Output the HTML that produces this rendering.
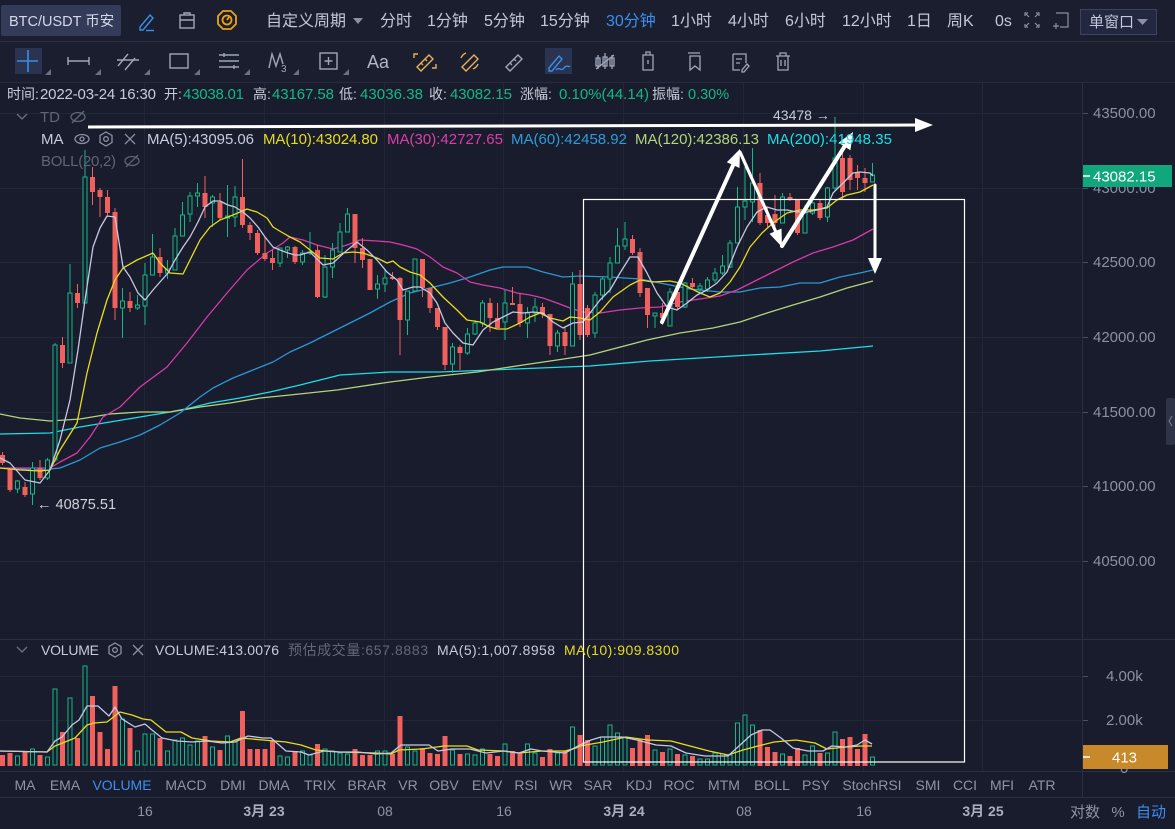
<!DOCTYPE html>
<html><head><meta charset="utf-8"><style>
html,body{margin:0;padding:0;background:#181c2c;overflow:hidden}
svg{display:block}
text{font-family:"Liberation Sans","Noto Sans CJK SC",sans-serif}
</style></head><body>
<svg width="1175" height="829" viewBox="0 0 1175 829" xmlns="http://www.w3.org/2000/svg">
<rect x="0" y="0" width="1175" height="829" fill="#181c2c"/>
<rect x="0" y="0" width="1175" height="82" fill="#1a1e2e"/>
<line x1="0" y1="41.5" x2="1175" y2="41.5" stroke="#2a2f41"/>
<line x1="0" y1="82.5" x2="1175" y2="82.5" stroke="#262b3d"/>

<!-- Toolbar 1 -->
<rect x="1" y="5" width="120" height="31" rx="2" fill="#343b58"/>
<text x="9" y="26" font-size="14.5" fill="#d4d8ea">BTC/USDT 币安</text>
<g fill="none" stroke="#3a8ee6" stroke-width="1.4"><path d="M140 27 L150 15 L153 18 L143 30 L140 30 Z"/><path d="M146 30.5h8"/></g>
<g fill="none" stroke="#a0a6ba" stroke-width="1.4"><rect x="180" y="15" width="14" height="13"/><path d="M180 20h14M184 15v-2h6v2"/></g>
<g fill="none" stroke="#e8a317" stroke-width="1.8"><polygon points="223,11 231,11 236,16 236,24 231,29 223,29 218,24 218,16"/><circle cx="227" cy="20" r="4.5"/><path d="M227 20 L229 17"/></g>
<g font-size="16" fill="#c3c7d9">
<text x="266" y="26">自定义周期</text>
<text x="380" y="26">分时</text>
<text x="427" y="26">1分钟</text>
<text x="484" y="26">5分钟</text>
<text x="540" y="26">15分钟</text>
<text x="606" y="26" fill="#3d8ff0">30分钟</text>
<text x="671" y="26">1小时</text>
<text x="728" y="26">4小时</text>
<text x="785" y="26">6小时</text>
<text x="842" y="26">12小时</text>
<text x="907" y="26">1日</text>
<text x="947" y="26">周K</text>
<text x="995" y="26">0s</text>
</g>
<polygon points="353,18 363,18 358,24" fill="#8b90a5"/>
<g fill="none" stroke="#8b90a5" stroke-width="1.2"><path d="M1025 16v-3h3M1039 16v-3h-3M1025 24v3h3M1039 24v3h-3M1026 14l3 3M1038 14l-3 3M1026 26l3-3M1038 26l-3-3"/><path d="M1056 13h12v14h-8M1056 23v6M1053 26h6"/></g>
<rect x="1080.5" y="9.5" width="76" height="25" fill="#232840" stroke="#3b4263"/>
<text x="1089" y="27" font-size="15" fill="#c3c7d9">单窗口</text>
<polygon points="1137,19 1148,19 1142.5,25" fill="#8b90a5"/>

<!-- Toolbar 2 -->
<rect x="15" y="48" width="27" height="26" fill="#2a3350"/>
<g stroke="#3a8ee6" stroke-width="1.6"><path d="M17 61h21M28 50v22"/></g>
<g fill="#6a7088"><polygon points="45,75 51,69 51,75"/><polygon points="95,75 101,69 101,75"/><polygon points="144,75 150,69 150,75"/><polygon points="194,75 200,69 200,75"/><polygon points="244,75 250,69 250,75"/><polygon points="293,75 299,69 299,75"/><polygon points="343,75 349,69 349,75"/></g>
<g fill="none" stroke="#a0a6ba" stroke-width="1.4">
<path d="M68 61h21M68 57v8M89 57v8"/>
<path d="M118 66l10-12M125 70l10-12M117 60h22"/>
<rect x="170" y="54" width="18" height="14"/>
<path d="M219 55h20M219 61h20M219 67h20M224 53v4M234 65v4"/>
<path d="M269 68l3-14l4 12l4-12l3 10"/>
<rect x="320" y="53" width="17" height="16"/><path d="M328.5 57v8M324.5 61h8"/>
<g stroke="#e8b05a"><path d="M417 67l12-12l4 4l-12 12zM421 63l2 2M425 59l2 2M414 58v-4h4M436 64v4h-4"/></g>
<g stroke="#e8b05a"><path d="M462 67l12-12l4 4l-12 12z"/><path d="M461 58a9 9 0 0 1 5-5M478 64a9 9 0 0 1-5 5"/></g>
<path d="M506 67l12-12l4 4l-12 12zM510 63l2 2M514 59l2 2"/>
</g>
<text x="367" y="68" font-size="18" fill="#b0b6c8">Aa</text>
<text x="281" y="72" font-size="10" fill="#a0a6ba">3</text>
<rect x="545" y="48" width="27" height="26" fill="#2a3350"/>
<g fill="none" stroke="#3a8ee6" stroke-width="1.4"><path d="M549 68l10-12l3 3l-10 12h-3z"/><path d="M556 70c3-4 5 2 8-2s4 0 6-2"/></g>
<g fill="none" stroke="#a0a6ba" stroke-width="1.3">
<path d="M598 55v14M598 58h-2v8h4v-8zM605 53v16M603 57h4v9h-4zM612 55v14M610 58h4v8h-4z"/><path d="M596 69l18-14"/>
<path d="M643 55h10v15h-10zM646 55v-3h4v3M648 60v4"/>
<path d="M688 53h12M690 56h10v14l-5-4l-5 4z"/>
<path d="M733 54h13v9M733 54v16h7M736 59h6M736 63h4M742 70l5-6l2 2l-5 6h-2z"/>
<path d="M776 56h14M780 56v-3h6v3M778 56v14h10v-14M781 60v6M785 60v6"/>
</g>

<!-- grid -->
<g stroke="#222738" stroke-width="1">
<path d="M0 113.5H1082M0 188.5H1082M0 262.5H1082M0 337.5H1082M0 412.5H1082M0 486.5H1082M0 561.5H1082M0 676.5H1082M0 720.5H1082"/>
<path d="M144.5 83V771M264.5 83V771M384.5 83V771M503.5 83V771M623.5 83V771M743.5 83V771M863.5 83V771M982.5 83V771"/>
</g>
<line x1="0" y1="639.5" x2="1175" y2="639.5" stroke="#2a3043"/>
<line x1="0" y1="771.5" x2="1175" y2="771.5" stroke="#2a3043"/>
<line x1="0" y1="797.5" x2="1175" y2="797.5" stroke="#2a3043"/>
<line x1="1082.5" y1="83" x2="1082.5" y2="797" stroke="#2a3043"/>

<!-- MA lines price -->
<g fill="none" stroke-width="1.3" stroke-linejoin="round">
<polyline stroke="#1cdfe6" points="0,434 50,433 80,427 110,422 140,417 170,412 190,408 210,403 240,398 270,392 300,385 340,375 390,372 440,372 490,370 540,368 590,366 650,361 700,358 750,355 820,351 873,346"/>
<polyline stroke="#b4d47c" points="0,414 20,418 50,421 80,419 110,414 140,412 170,412 200,407 230,403 260,398 290,395 337,390 390,382 430,377 477,372 523,365 557,360 590,355 647,340 680,333 713,328 740,322 767,313 793,305 820,297 847,288 873,281"/>
<polyline stroke="#2c98d4" points="0,468 40,470 60,468 80,460 100,448 120,442 140,435 160,425 180,413 200,397 213,388 233,378 253,370 273,362 290,352 310,343 330,333 350,323 370,313 390,302 410,293 430,288 450,283 470,277 490,270 503,267 527,267 543,272 563,277 580,276 610,277 640,279 670,285 690,289 720,292 740,292 760,288 780,287 800,283 820,283 840,277 860,273 873,270"/>
<polyline stroke="#d83aa8" points="0,468 50,468 60,462 77,453 90,437 103,417 120,407 140,387 167,367 187,343 207,317 227,293 247,270 267,253 283,243 290,237 303,240 317,245 333,249 347,245 360,240 377,241 390,242 403,245 417,249 430,257 443,267 457,273 470,282 483,285 500,288 517,293 530,295 543,298 557,303 570,308 583,312 600,313 620,310 640,308 660,307 680,302 700,299 720,296 737,290 753,282 773,272 793,262 813,253 833,247 853,240 873,229"/>
</g>

<!-- candles -->
<path stroke="#f0605d" stroke-width="1" fill="none" d="M2.5 452V465M10 468V492M25 482V497M40 460V480M62.5 337V368M77.5 284V308M92.5 167V205M100 188V217M107.5 190V217M115 208V320M130 292V312M160 248V277M205 176V218M220 193V220M242.5 159V228M250 222V240M257.5 230V255M265 237V261M272.5 250V270M295 246V264M317.5 245V298M355 214V263M362.5 238V268M370 259V290M392.5 272V280M400 277V355M422.5 259V297M430 288V313M437.5 308V330M445 327V370M460 345V370M490 298V332M497.5 303V328M512.5 287V305M520 293V327M542.5 303V318M550 314V355M565 327V355M580 270V340M587.5 305V337M632.5 235V255M640 248V297M647.5 288V328M662.5 303V325M677.5 290V310M692.5 278V288M760 173V225M767.5 207V227M775 195V227M790 193V201M797.5 200V235M820 200V220M842.5 150V200M850 155V190M857.5 165V190M865 168V192"/>
<path fill="#f0605d" d="M0 455h5v8h-5zM7.5 469h5v21h-5zM22.5 487h5v8h-5zM37.5 468h5v10h-5zM60 345h5v18h-5zM75 293h5v10h-5zM90 177h5v15h-5zM97.5 190h5v7h-5zM105 197h5v16h-5zM112.5 212h5v96h-5zM127.5 301h5v7h-5zM157.5 257h5v16h-5zM202.5 193h5v14h-5zM217.5 202h5v16h-5zM240 197h5v28h-5zM247.5 225h5v8h-5zM255 233h5v20h-5zM262.5 253h5v6h-5zM270 258h5v5h-5zM292.5 247h5v15h-5zM315 250h5v47h-5zM352.5 214h5v34h-5zM360 248h5v12h-5zM367.5 259h5v31h-5zM390 277h5v2h-5zM397.5 278h5v42h-5zM420 259h5v29h-5zM427.5 288h5v20h-5zM435 308h5v19h-5zM442.5 327h5v38h-5zM457.5 347h5v6h-5zM487.5 303h5v15h-5zM495 318h5v10h-5zM510 303h5v2h-5zM517.5 304h5v19h-5zM540 307h5v7h-5zM547.5 314h5v32h-5zM562.5 332h5v14h-5zM577.5 284h5v51h-5zM585 308h5v27h-5zM630 239h5v14h-5zM637.5 252h5v41h-5zM645 288h5v27h-5zM660 313h5v5h-5zM675 292h5v15h-5zM690 283h5v4h-5zM757.5 183h5v40h-5zM765 215h5v8h-5zM772.5 214h5v9h-5zM787.5 197h5v3h-5zM795 200h5v33h-5zM817.5 203h5v15h-5zM840 158h5v34h-5zM847.5 158h5v22h-5zM855 172h5v6h-5zM862.5 178h5v5h-5z"/>
<path stroke="#13b886" stroke-width="1" fill="none" d="M17.5 480V493M32.5 462V505M47.5 458V480M55 343V462M70 264V363M85 150V303M122.5 288V338M137.5 295V310M145 263V325M152.5 234V275M167.5 260V279M175 228V270M182.5 202V236M190 192V222M197.5 183V207M212.5 195V227M227.5 185V237M235 186V227M280 248V267M287.5 246V258M302.5 250V265M310 232V255M325 255V298M332.5 243V278M340 223V252M347.5 208V232M377.5 275V299M385 270V292M407.5 291V335M415 259V291M452.5 343V373M467.5 328V355M475 320V335M482.5 300V327M505 290V340M527.5 307V338M535 298V322M557.5 330V352M572.5 272V346M595 292V338M602.5 277V300M610 257V293M617.5 228V263M625 222V250M655 313V328M670 288V326M685 282V308M700 283V293M707.5 277V292M715 268V283M722.5 255V275M730 240V268M737.5 187V243M745 163V220M752.5 148V222M782.5 193V223M805 205V233M812.5 201V215M827.5 187V222M835 117V190M872.5 163V182"/>
<path stroke="#13b886" stroke-width="1" fill="#181c2c" d="M15.5 481h4v8h-4zM30.5 468h4v26h-4zM45.5 460h4v18h-4zM53 345h4v115h-4zM68 293h4v70h-4zM83 177h4v126h-4zM120.5 301h4v7h-4zM135.5 305h4v3h-4zM143 275h4v31h-4zM150.5 257h4v18h-4zM165.5 269h4v4h-4zM173 236h4v34h-4zM180.5 215h4v21h-4zM188 196h4v18h-4zM195.5 193h4v3h-4zM210.5 197h4v6h-4zM225.5 216h4v2h-4zM233 197h4v20h-4zM278 248h4v15h-4zM285.5 247h4v3h-4zM300.5 253h4v9h-4zM308 252h4v1h-4zM323 267h4v30h-4zM330.5 250h4v17h-4zM338 232h4v20h-4zM345.5 214h4v18h-4zM375.5 284h4v5h-4zM383 278h4v6h-4zM405.5 291h4v29h-4zM413 259h4v32h-4zM450.5 347h4v17h-4zM465.5 334h4v19h-4zM473 323h4v11h-4zM480.5 303h4v20h-4zM503 303h4v19h-4zM525.5 313h4v10h-4zM533 307h4v6h-4zM555.5 333h4v13h-4zM570.5 284h4v62h-4zM593 295h4v38h-4zM600.5 279h4v16h-4zM608 263h4v16h-4zM615.5 246h4v17h-4zM623 239h4v7h-4zM653 313h4v3h-4zM668 292h4v34h-4zM683 283h4v24h-4zM698 286h4v3h-4zM705.5 280h4v9h-4zM713 273h4v7h-4zM720.5 266h4v7h-4zM728 243h4v24h-4zM735.5 207h4v36h-4zM743 201h4v6h-4zM750.5 183h4v19h-4zM780.5 197h4v26h-4zM803 213h4v20h-4zM810.5 203h4v10h-4zM825.5 188h4v29h-4zM833 158h4v30h-4zM870.5 175h4v7h-4z"/>

<!-- MA5 / MA10 price -->
<g fill="none" stroke-width="1.3" stroke-linejoin="round">
<polyline stroke="#e8dc1c" points="0,468 20,470 40,471 50,470 60,450 77,423 87,373 97,333 107,300 115,280 123,268 137,260 153,253 160,263 170,273 183,274 190,260 200,240 210,227 220,220 233,215 247,209 257,212 267,218 273,227 283,233 290,237 300,242 310,250 320,258 333,259 343,253 353,252 363,253 377,258 387,263 393,261 400,267 410,272 420,275 430,283 443,297 457,310 467,320 480,322 490,327 497,329 507,329 520,323 530,317 540,313 550,318 563,321 570,317 580,318 590,320 600,312 613,297 630,285 640,280 653,282 670,281 680,283 690,288 700,293 710,297 720,293 730,282 740,267 750,247 762,233 773,223 787,213 800,210 813,210 827,208 837,200 847,195 860,192 873,185"/>
<polyline stroke="#c6c8e2" points="0,458 10,463 25,480 40,483 50,470 60,440 70,400 78,350 85,300 93,247 100,228 107,216 115,217 123,267 130,277 138,293 145,300 153,290 160,282 168,273 175,260 183,247 190,237 198,222 205,207 213,201 220,201 228,205 235,207 243,212 250,218 258,227 265,237 273,247 280,250 288,253 295,255 300,255 310,252 323,265 333,263 345,252 357,242 367,250 377,260 387,272 397,280 403,290 413,287 420,287 430,293 437,303 445,323 453,333 463,343 473,345 483,330 493,322 503,317 513,312 523,313 533,312 543,313 553,322 563,328 573,323 583,322 590,313 600,300 610,290 620,273 630,257 638,257 647,273 657,293 667,307 677,310 687,303 697,295 707,290 717,283 727,272 737,247 747,227 757,212 767,207 777,210 787,210 797,212 807,212 817,210 827,207 833,193 843,183 853,173 860,172 870,173 873,176"/>
</g>

<!-- volume -->
<g transform="translate(0,2)">
<path fill="#f0605d" d="M0 753h5V764h-5zM7.5 751h5V764h-5zM22.5 749h5V764h-5zM37.5 753h5V764h-5zM60 730h5V764h-5zM75 736h5V764h-5zM90 694h5V764h-5zM97.5 730h5V764h-5zM105 747h5V764h-5zM112.5 684h5V764h-5zM127.5 726h5V764h-5zM157.5 736h5V764h-5zM202.5 734h5V764h-5zM217.5 748h5V764h-5zM240 709h5V764h-5zM247.5 747h5V764h-5zM255 747h5V764h-5zM262.5 747h5V764h-5zM270 739h5V764h-5zM292.5 749h5V764h-5zM315 742h5V764h-5zM352.5 747h5V764h-5zM360 753h5V764h-5zM367.5 753h5V764h-5zM390 752h5V764h-5zM397.5 714h5V764h-5zM420 746h5V764h-5zM427.5 751h5V764h-5zM435 752h5V764h-5zM442.5 734h5V764h-5zM457.5 752h5V764h-5zM487.5 752h5V764h-5zM495 754h5V764h-5zM510 749h5V764h-5zM517.5 751h5V764h-5zM540 755h5V764h-5zM547.5 747h5V764h-5zM562.5 749h5V764h-5zM577.5 733h5V764h-5zM585 738h5V764h-5zM630 746h5V764h-5zM637.5 737h5V764h-5zM645 733h5V764h-5zM660 750h5V764h-5zM675 752h5V764h-5zM690 754h5V764h-5zM757.5 728h5V764h-5zM765 745h5V764h-5zM772.5 750h5V764h-5zM787.5 754h5V764h-5zM795 746h5V764h-5zM817.5 751h5V764h-5zM840 737h5V764h-5zM847.5 735h5V764h-5zM855 747h5V764h-5zM862.5 732h5V764h-5z"/>
<path stroke="#13b886" stroke-width="1" fill="#181c2c" d="M15.5 754h4V763h-4zM30.5 747h4V763h-4zM45.5 755h4V763h-4zM53 687h4V763h-4zM68 696h4V763h-4zM83 664h4V763h-4zM120.5 717h4V763h-4zM135.5 749h4V763h-4zM143 732h4V763h-4zM150.5 732h4V763h-4zM165.5 749h4V763h-4zM173 738h4V763h-4zM180.5 736h4V763h-4zM188 743h4V763h-4zM195.5 739h4V763h-4zM210.5 745h4V763h-4zM225.5 734h4V763h-4zM233 740h4V763h-4zM278 754h4V763h-4zM285.5 755h4V763h-4zM300.5 749h4V763h-4zM308 753h4V763h-4zM323 747h4V763h-4zM330.5 749h4V763h-4zM338 751h4V763h-4zM345.5 752h4V763h-4zM375.5 749h4V763h-4zM383 749h4V763h-4zM405.5 745h4V763h-4zM413 749h4V763h-4zM450.5 748h4V763h-4zM465.5 752h4V763h-4zM473 753h4V763h-4zM480.5 747h4V763h-4zM503 742h4V763h-4zM525.5 742h4V763h-4zM533 751h4V763h-4zM555.5 751h4V763h-4zM570.5 725h4V763h-4zM593 744h4V763h-4zM600.5 735h4V763h-4zM608 723h4V763h-4zM615.5 731h4V763h-4zM623 735h4V763h-4zM653 748h4V763h-4zM668 747h4V763h-4zM683 753h4V763h-4zM698 757h4V763h-4zM705.5 757h4V763h-4zM713 751h4V763h-4zM720.5 752h4V763h-4zM728 753h4V763h-4zM735.5 721h4V763h-4zM743 713h4V763h-4zM750.5 723h4V763h-4zM780.5 752h4V763h-4zM803 753h4V763h-4zM810.5 744h4V763h-4zM825.5 751h4V763h-4zM833 730h4V763h-4zM870.5 755h4V763h-4z"/>
<g fill="none" stroke-width="1.3" stroke-linejoin="round">
<polyline stroke="#e8dc1c" points="0,749 47,750 55,744 75,736 87,723 94,721 107,720 120,710 132,713 143,717 151,718 166,730 181,730 192,736 211,739 230,740 241,736 263,738 286,740 301,743 316,748 339,750 376,751 391,752 399,748 422,747 444,744 467,744 478,748 504,749 519,751 542,749 565,749 576,746 580,744 603,740 626,735 648,738 671,739 690,744 709,749 728,753 743,748 758,744 774,740 796,738 815,741 827,747 846,745 861,744 872,744"/>
<polyline stroke="#c6c8e2" points="0,749 47,750 55,739 62,735 72,723 79,718 87,704 98,704 109,714 115,705 122,717 135,725 145,722 152,728 162,736 177,739 192,740 207,739 222,741 235,740 248,734 263,736 271,736 286,749 301,750 309,753 324,749 339,750 358,750 376,752 391,751 401,743 414,743 429,743 438,749 452,747 470,747 486,751 504,749 519,751 531,747 542,749 565,751 580,743 591,738 601,735 622,735 637,738 656,743 671,744 686,751 705,754 728,754 739,744 751,733 762,728 770,728 781,736 793,746 808,749 823,749 832,744 846,745 857,743 865,738 872,742"/>
</g>
</g>

<!-- overlays -->
<rect x="583.5" y="199.5" width="381" height="562.5" fill="none" stroke="#ffffff" stroke-width="1.2"/>
<line x1="88" y1="127" x2="918" y2="125" stroke="#ffffff" stroke-width="3"/>
<polygon points="915,118 933,125 915,132" fill="#ffffff"/>
<g stroke="#ffffff" stroke-width="4" stroke-linecap="round" fill="none">
<line x1="662" y1="322" x2="733.4" y2="164.6"/>
<line x1="740" y1="152" x2="775.6" y2="231.3" stroke-width="3.2"/>
<line x1="782" y1="246" x2="844.5" y2="146.5"/>
<line x1="875" y1="185" x2="875" y2="259" stroke-width="3"/>
</g>
<g fill="#ffffff">
<polygon points="740,149 739.5,168 726.8,162.2"/>
<polygon points="782,247 781.5,228.5 769.5,233.8"/>
<polygon points="853,132 850.4,150.2 838.6,142.8"/>
<polygon points="868,258 882,258 875,274"/>
</g>
<text x="773" y="120" font-size="14" fill="#c8cad6">43478 →</text>
<text x="37" y="509" font-size="14.5" fill="#d0d2dc">← 40875.51</text>

<!-- legends -->
<g font-size="15">
<text x="7" y="99" fill="#c8ccd8" font-size="14">时间:</text>
<text x="40" y="99" fill="#c8ccd8" textLength="116">2022-03-24 16:30</text>
<text x="164" y="99" fill="#c8ccd8" font-size="14">开:</text>
<text x="183" y="99" fill="#14b886" textLength="61">43038.01</text>
<text x="253" y="99" fill="#c8ccd8" font-size="14">高:</text>
<text x="272" y="99" fill="#14b886" textLength="62">43167.58</text>
<text x="339" y="99" fill="#c8ccd8" font-size="14">低:</text>
<text x="360" y="99" fill="#14b886" textLength="63">43036.38</text>
<text x="429" y="99" fill="#c8ccd8" font-size="14">收:</text>
<text x="450" y="99" fill="#14b886" textLength="62">43082.15</text>
<text x="520" y="99" fill="#c8ccd8" font-size="14">涨幅:</text>
<text x="559" y="99" fill="#14b886" textLength="90">0.10%(44.14)</text>
<text x="652" y="99" fill="#c8ccd8" font-size="14">振幅:</text>
<text x="688" y="99" fill="#14b886" font-size="14.5">0.30%</text>

<text x="40" y="122" fill="#5f6478">TD</text>
<text x="41" y="144" fill="#c8ccd8">MA</text>
<text x="147" y="144" fill="#c8cae0" textLength="107">MA(5):43095.06</text>
<text x="263" y="144" fill="#e8dc1c" textLength="115">MA(10):43024.80</text>
<text x="387" y="144" fill="#d840a8" textLength="116">MA(30):42727.65</text>
<text x="511" y="144" fill="#2d9cd8" textLength="116">MA(60):42458.92</text>
<text x="635" y="144" fill="#b4d47c" textLength="124">MA(120):42386.13</text>
<text x="767" y="144" fill="#1cdfe6" textLength="125">MA(200):41948.35</text>
<text x="41" y="166" fill="#5f6478" textLength="75">BOLL(20,2)</text>
</g>
<g fill="none" stroke-width="1.3">
<path d="M17 114l5 5l5-5" stroke="#6a7088"/>
<g stroke="#5f6478"><ellipse cx="78" cy="117" rx="7" ry="4.5"/><path d="M72 123l12-12"/><ellipse cx="132" cy="161" rx="7" ry="4.5"/><path d="M126 167l12-12"/></g>
<g stroke="#8b90a5"><ellipse cx="82" cy="139" rx="7" ry="4.5"/><circle cx="82" cy="139" r="2"/><polygon points="106,132 112,135.5 112,142.5 106,146 100,142.5 100,135.5"/><circle cx="106" cy="139" r="2.3"/><path d="M125 134l10 10M135 134l-10 10"/></g>
<path d="M17 647l5 5l5-5" stroke="#6a7088"/>
<g stroke="#8b90a5"><polygon points="115,643 121,646.5 121,653.5 115,657 109,653.5 109,646.5"/><circle cx="115" cy="650" r="2.3"/><path d="M133 645l10 10M143 645l-10 10"/></g>
</g>
<g font-size="14">
<text x="41" y="655" fill="#c8ccd8" textLength="58">VOLUME</text>
<text x="155" y="655" fill="#c8ccd8" textLength="124">VOLUME:413.0076</text>
<text x="288" y="655" fill="#62677c" textLength="140">预估成交量:657.8883</text>
<text x="437" y="655" fill="#c8ccd8" textLength="118">MA(5):1,007.8958</text>
<text x="564" y="655" fill="#e8dc1c" textLength="115">MA(10):909.8300</text>
</g>

<!-- right axis -->
<g stroke="#4a5068"><path d="M1083 113.5h5M1083 188.5h5M1083 262.5h5M1083 337.5h5M1083 412.5h5M1083 486.5h5M1083 561.5h5M1083 676.5h5M1083 720.5h5"/></g>
<g font-size="15" fill="#8b90a5">
<text x="1093" y="118">43500.00</text>
<text x="1093" y="193">43000.00</text>
<text x="1093" y="267">42500.00</text>
<text x="1093" y="342">42000.00</text>
<text x="1093" y="417">41500.00</text>
<text x="1093" y="491">41000.00</text>
<text x="1093" y="566">40500.00</text>
<text x="1106" y="681">4.00k</text>
<text x="1106" y="725">2.00k</text>
<text x="1120" y="773">0</text>
</g>
<rect x="1083" y="165" width="89" height="22" fill="#12a67c"/>
<line x1="1083" y1="176" x2="1090" y2="176" stroke="#ffffff" stroke-width="1.5"/>
<text x="1093" y="181.5" font-size="15" fill="#ffffff">43082.15</text>
<rect x="1083" y="745" width="85" height="24" fill="#c8892a"/>
<line x1="1083" y1="757" x2="1090" y2="757" stroke="#ffffff" stroke-width="1.5"/>
<text x="1112" y="762.5" font-size="15" fill="#ffffff">413</text>
<rect x="1166" y="398" width="9" height="47" rx="2" fill="#2e3347"/>
<path d="M1172 416l-3 5l3 5" fill="none" stroke="#7a8098" stroke-width="1"/>

<!-- indicator bar -->
<g font-size="14" fill="#8e93a8" text-anchor="middle">
<text x="25" y="790">MA</text>
<text x="65" y="790">EMA</text>
<text x="122" y="790" fill="#3d8ff0">VOLUME</text>
<text x="186" y="790">MACD</text>
<text x="233" y="790">DMI</text>
<text x="274" y="790">DMA</text>
<text x="320" y="790">TRIX</text>
<text x="367" y="790">BRAR</text>
<text x="408" y="790">VR</text>
<text x="444" y="790">OBV</text>
<text x="487" y="790">EMV</text>
<text x="526" y="790">RSI</text>
<text x="561" y="790">WR</text>
<text x="598" y="790">SAR</text>
<text x="639" y="790">KDJ</text>
<text x="679" y="790">ROC</text>
<text x="724" y="790">MTM</text>
<text x="772" y="790">BOLL</text>
<text x="816" y="790">PSY</text>
<text x="872" y="790">StochRSI</text>
<text x="928" y="790">SMI</text>
<text x="965" y="790">CCI</text>
<text x="1002" y="790">MFI</text>
<text x="1042" y="790">ATR</text>
</g>

<!-- time axis -->
<g font-size="14" fill="#8e93a8" text-anchor="middle">
<text x="145" y="816">16</text>
<text x="264" y="816" font-weight="bold" fill="#a9aec2">3月 23</text>
<text x="385" y="816">08</text>
<text x="504" y="816">16</text>
<text x="624" y="816" font-weight="bold" fill="#a9aec2">3月 24</text>
<text x="744" y="816">08</text>
<text x="864" y="816">16</text>
<text x="983" y="816" font-weight="bold" fill="#a9aec2">3月 25</text>
<text x="1085" y="817" font-size="15">对数</text>
<text x="1118" y="817" font-size="15">%</text>
<text x="1151" y="817" font-size="15" fill="#3d8ff0">自动</text>
</g>
</svg>
</body></html>
